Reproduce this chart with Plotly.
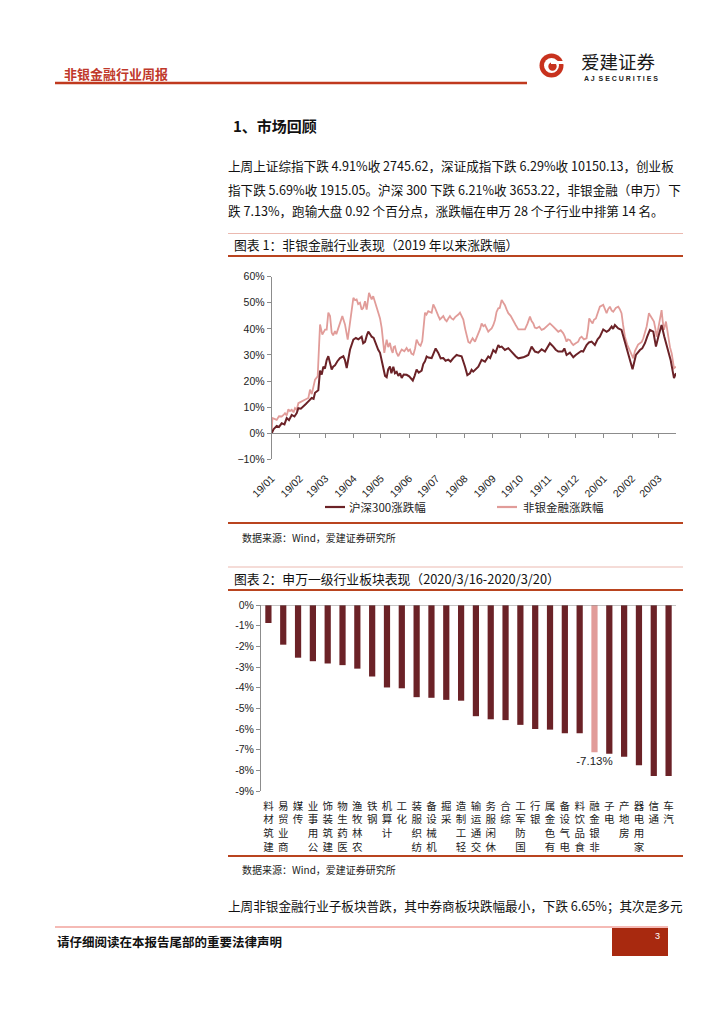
import pandas as pd
import plotly.graph_objects as go

# The page body adds an 8px margin, so the figure is 8px smaller and page coordinates
# are shifted by that offset.
OFF = 8
W, H = 724 - OFF, 1024 - OFF


def px(x):
    return (x - OFF) / W


def py(y):
    return 1 - (y - OFF) / H


CJK = "Noto Sans CJK SC"
LAT = "Liberation Sans, Noto Sans CJK SC"

# ---------------- Chart 1 data: cumulative change since 2019 (%) ----------------
BASE_DATE = "2019-01-01"
END_DATE = "2020-03-20 03:00"

hs300_name = "沪深300涨跌幅"
fin_name = "非银金融涨跌幅"

hs300_day = [0, 2, 5.5, 8, 11, 14, 16.5, 19, 22, 25, 27.5, 29.3, 32, 34.8, 37.5, 40.3, 43.9, 46,
             47.6, 51.2, 53.1, 55, 56.7, 58.5, 60.4, 62.2, 64, 65.9, 67.5, 69.5, 72, 75, 78.7,
             80.5, 82.4, 84, 86, 89.7, 92.5, 95.2, 98.8, 100.5, 102.5, 104.5, 106.1, 108, 109.8,
             112, 115.3, 117, 119, 121, 122.6, 124.5, 126.3, 128, 129.9, 131.5, 133.6, 135.4,
             137.3, 139.1, 141, 142.8, 145, 148.2, 151, 153.7, 155, 157, 159.2, 161.5, 164.7,
             166.5, 168.4, 170.2, 172, 175.7, 178, 180.1, 183, 185.6, 188.5, 191, 194, 196.5,
             199.5, 203.1, 205, 208.6, 212.3, 214.9, 217.8, 219.6, 221.4, 225.1, 227, 230.6,
             234.3, 237.9, 240, 243.4, 246, 248.9, 250.5, 252.6, 256.2, 259.9, 262.5, 265.4,
             268, 270.9, 274, 276.4, 279, 281.9, 285.5, 289.2, 292.8, 296.5, 300.2, 302.5,
             305.6, 309.3, 312, 314.8, 319.5, 321.5, 323.9, 327.6, 331.3, 334, 336.7, 340,
             342.2, 345.9, 348.5, 351.4, 355, 358, 360.5, 364.2, 367.9, 370.5, 373.4, 375, 377,
             380.7, 384.3, 386, 388, 392.8, 396.4, 400.1, 402, 404.5, 407, 410, 412.5, 415.5,
             419.2, 422.1, 424.7, 428.3, 431.3, 434.6, 438.2, 441.9, 444.1]
hs300_pct = [0.0, 1.5, 2.8, 2.4, 3.8, 3.4, 5.8, 5.0, 7.0, 6.4, 7.7, 9.6, 9.4, 10.5, 11.2, 12.2,
             13.5, 13.2, 15.5, 16.5, 24.0, 22.5, 25.5, 24.8, 28.0, 29.5, 27.0, 24.4, 25.5, 26.0,
             27.5, 28.8, 29.5, 28.0, 25.0, 28.5, 32.0, 35.9, 36.5, 36.0, 37.0, 34.5, 35.0, 37.5,
             39.0, 38.0, 37.0, 36.5, 33.0, 32.0, 30.8, 28.0, 25.6, 22.0, 21.5, 24.5, 25.6, 23.0,
             25.5, 23.0, 23.5, 22.0, 23.0, 21.2, 22.5, 22.4, 21.8, 20.5, 20.2, 22.0, 24.4, 23.2,
             24.0, 26.5, 27.6, 29.4, 29.0, 28.8, 30.5, 32.5, 30.8, 28.7, 28.8, 27.8, 28.2, 27.5,
             28.8, 30.0, 29.8, 29.5, 25.6, 22.3, 23.0, 24.3, 23.6, 24.9, 25.5, 28.1, 27.4, 29.4,
             28.8, 31.9, 31.0, 33.8, 33.0, 33.2, 31.9, 32.6, 31.5, 30.6, 29.5, 28.7, 28.8, 29.1,
             29.5, 30.0, 33.2, 31.3, 30.9, 32.2, 31.3, 32.8, 34.5, 33.2, 32.0, 31.3, 31.3, 32.5,
             30.0, 30.9, 29.1, 30.0, 30.6, 31.5, 31.3, 33.8, 34.8, 35.1, 33.8, 36.0, 37.0, 39.8,
             38.9, 39.5, 40.9, 40.0, 41.5, 40.2, 39.6, 37.5, 34.5, 29.4, 24.5, 30.0, 31.0, 31.9,
             32.5, 34.5, 37.0, 39.6, 38.9, 33.2, 37.0, 41.5, 37.0, 33.2, 28.1, 21.1, 23.0]

fin_day = [0, 0.7, 3, 5.5, 8, 11, 13, 14.6, 16.5, 18.3, 20, 22, 24, 25.6, 27.5, 29.3, 32, 34.8,
           37.5, 40.3, 42.1, 44, 45.8, 47.6, 50.5, 53.1, 55.6, 57, 58.6, 60.4, 62.2, 64.1, 65.9,
           67.5, 69.5, 71, 73.2, 75.5, 77.6, 80.5, 82, 83.5, 86, 88, 89.7, 91.5, 93.3, 95, 97,
           98.8, 100.5, 102.5, 104.3, 106.9, 108.5, 109.8, 111.5, 113.5, 115.5, 117.1, 119,
           120.8, 122.3, 123.7, 125, 126.3, 128, 129.9, 131.5, 132.9, 134, 135.4, 137, 139.1,
           141, 142.8, 145.7, 148.2, 150, 151.9, 153.5, 155.6, 157.5, 159.2, 161.8, 163.5,
           165.4, 167, 168.4, 170, 172, 175.7, 177.5, 179.5, 181.2, 183, 184.8, 188.5, 190.5,
           192.2, 194, 195.8, 197.5, 199.5, 201.5, 203.1, 205, 206.8, 208.5, 210.5, 212.5,
           214.1, 216, 217.8, 220.7, 223.3, 225, 227, 229, 230.6, 232.5, 234.3, 237.9, 239.5,
           241.6, 243.5, 245.3, 247, 248.9, 250.5, 252.6, 254.5, 256.2, 258, 259.9, 262.5,
           265.4, 268, 270.9, 274.5, 278.2, 281, 283.7, 285.5, 287.4, 289, 291, 294, 296.5,
           299, 302, 305.6, 309.3, 312, 314.8, 317.5, 320.3, 322, 323.9, 325.5, 327.6, 329.5,
           331.3, 334, 336.7, 338.5, 340.4, 343, 345.9, 347.5, 348.8, 350.5, 352.5, 354, 356.1,
           358.5, 360.5, 364.2, 366, 367.9, 369.5, 371.5, 373.5, 375.2, 378, 380.7, 382.5,
           384.3, 386, 388, 390.5, 392.8, 395, 397.2, 399, 400.8, 402.5, 404.5, 406.5, 408.2,
           410, 411.9, 413.2, 414.4, 416, 417.4, 419.9, 421.5, 422.8, 424.3, 425.8, 427, 428.3,
           429.5, 430.9, 433.1, 435.7, 437.5, 439.4, 441.9, 444.1]
fin_pct = [0.0, 5.8, 5.5, 5.1, 6.5, 6.4, 7.0, 7.7, 6.8, 9.2, 8.5, 9.0, 8.0, 9.6, 9.0, 11.5, 12.0,
           12.4, 13.0, 13.5, 16.7, 15.0, 17.9, 20.5, 21.8, 41.7, 37.8, 39.0, 39.7, 39.7, 46.2,
           44.9, 38.5, 37.5, 39.1, 38.0, 40.4, 42.0, 44.9, 41.7, 38.0, 35.9, 42.3, 47.5, 51.9,
           51.0, 51.3, 49.5, 50.0, 47.4, 48.0, 50.6, 47.4, 53.8, 52.0, 51.3, 52.5, 50.6, 48.0,
           46.2, 44.0, 40.4, 35.0, 30.8, 33.5, 35.9, 33.0, 34.6, 32.0, 30.8, 33.0, 33.3, 31.0,
           29.5, 31.0, 32.1, 31.4, 32.7, 31.5, 32.1, 30.5, 30.1, 32.5, 35.9, 34.0, 33.5, 35.3,
           42.0, 46.2, 45.5, 46.8, 46.2, 49.4, 48.0, 46.8, 45.0, 43.6, 44.9, 43.5, 42.9, 44.0,
           44.9, 44.0, 43.6, 44.5, 44.9, 45.5, 46.2, 45.0, 43.6, 40.0, 37.2, 35.0, 34.6, 36.4,
           35.1, 36.5, 38.3, 40.0, 42.1, 41.0, 41.5, 38.9, 39.5, 40.2, 41.5, 43.4, 46.5, 47.9,
           48.0, 51.1, 50.0, 49.1, 47.5, 46.0, 45.0, 43.4, 41.5, 39.8, 39.8, 39.8, 42.0, 44.7,
           43.0, 42.1, 40.5, 40.2, 40.8, 39.6, 40.0, 40.9, 42.1, 40.9, 40.0, 38.9, 39.5, 38.3,
           37.0, 35.1, 36.0, 35.7, 34.5, 33.8, 34.5, 35.1, 36.5, 37.0, 36.0, 36.4, 40.0, 44.0,
           43.0, 42.1, 43.5, 44.0, 46.5, 48.5, 49.2, 47.5, 46.0, 47.5, 48.5, 47.0, 46.6, 48.0,
           48.5, 47.5, 46.0, 41.5, 37.0, 34.0, 31.9, 30.0, 28.7, 31.5, 33.2, 34.0, 34.5, 35.0,
           36.4, 38.5, 40.9, 43.5, 46.0, 45.0, 44.0, 42.8, 40.0, 37.0, 39.5, 42.1, 45.0, 47.2,
           43.0, 39.6, 42.8, 35.7, 33.0, 30.6, 24.9, 25.5]

# ---------------- Chart 2 data: SW level-1 industries, 2020/3/16-3/20 (%) ----------------
industries = ["建筑材料", "商业贸易", "传媒", "公用事业", "建筑装饰", "医药生物", "农林牧渔",
              "钢铁", "计算机", "化工", "纺织服装", "机械设备", "采掘", "轻工制造", "交通运输",
              "休闲服务", "综合", "国防军工", "银行", "有色金属", "电气设备", "食品饮料",
              "非银金融", "电子", "房地产", "家用电器", "通信", "汽车"]
industry_pct = [-0.87, -1.92, -2.55, -2.72, -2.83, -2.91, -3.08, -3.46, -3.99, -4.03, -4.46,
                -4.49, -4.59, -4.63, -5.38, -5.53, -5.57, -5.80, -6.00, -6.03, -6.21, -6.21,
                -7.13, -7.20, -7.34, -7.75, -8.27, -8.27]
highlight = "非银金融"
bar_tick_vals = [0, -1, -2, -3, -4, -5, -6, -7, -8, -9]
bar_tick_text = ["0%", "-1%", "-2%", "-3%", "-4%", "-5%", "-6%", "-7%", "-8%", "-9%"]

DARK = "#6B2227"
PINK = "#E19C99"
AXIS = "#8C8C8C"


def to_dates(days):
    return pd.Timestamp(BASE_DATE) + pd.to_timedelta(days, unit="D")


def stack(label):
    # upright characters stacked, read bottom-to-top as in the source
    return "<br>".join(reversed(label))


fig = go.Figure()

fig.add_trace(go.Scatter(x=to_dates(fin_day), y=fin_pct, mode="lines", name=fin_name,
                         line=dict(color=PINK, width=1.8), xaxis="x", yaxis="y"))
fig.add_trace(go.Scatter(x=to_dates(hs300_day), y=hs300_pct, mode="lines", name=hs300_name,
                         line=dict(color=DARK, width=2), xaxis="x", yaxis="y"))
fig.add_trace(go.Scatter(x=[], y=[], xaxis="x3", yaxis="y", hoverinfo="skip"))

bar_colors = [PINK if c == highlight else DARK for c in industries]
bar_text = ["%.2f%%" % v if c == highlight else "" for c, v in zip(industries, industry_pct)]
fig.add_trace(go.Bar(x=industries, y=industry_pct, marker=dict(color=bar_colors, line=dict(width=0)),
                     width=0.42, text=bar_text, textposition="outside", constraintext="none",
                     textfont=dict(family=LAT, size=11.5, color="#222"), cliponaxis=False,
                     xaxis="x2", yaxis="y2"))

c1_x0, c1_x1 = 271.7, 676
c1_ytop, c1_ybot = 276.7, 459.3
c1_zero = 433.3
c2_x0, c2_x1 = 261, 676
c2_ytop, c2_ybot = 605, 791

fig.update_layout(
    width=W, height=H, margin=dict(l=0, r=0, t=0, b=0, autoexpand=False),
    paper_bgcolor="white", plot_bgcolor="white",
    showlegend=False,
    xaxis=dict(domain=[px(c1_x0), px(c1_x1)], anchor="y", type="date", automargin=False,
               range=[BASE_DATE, END_DATE], tick0="2019-01-01", dtick="M1", tickformat="%y/%m",
               tickangle=-45, showline=False, ticks="outside", ticklen=8,
               tickcolor="rgba(0,0,0,0)", showgrid=False, zeroline=False,
               tickfont=dict(family=LAT, size=10.5, color="#222")),
    xaxis3=dict(domain=[px(c1_x0), px(c1_x1)], overlaying="x", anchor="free", automargin=False,
                position=py(c1_zero), side="bottom", type="date",
                range=[BASE_DATE, END_DATE], tick0="2019-01-01", dtick="M1",
                showticklabels=False, ticks="outside", ticklen=4, tickcolor=AXIS,
                showline=True, linecolor=AXIS, linewidth=1, showgrid=False, zeroline=False),
    yaxis=dict(domain=[py(c1_ybot), py(c1_ytop)], anchor="x", range=[-10, 60], dtick=10,
               automargin=False,
               ticksuffix="%", showline=True, linecolor=AXIS, linewidth=1, ticks="outside",
               ticklen=4, tickcolor=AXIS, showgrid=False, zeroline=False,
               tickfont=dict(family=LAT, size=10.5, color="#222")),
    xaxis2=dict(domain=[px(c2_x0), px(c2_x1)], anchor="y2", type="category", automargin=False,
                tickvals=industries, ticktext=[stack(c) for c in industries], tickangle=0,
                showline=False, ticks="outside", ticklen=5, tickcolor="rgba(0,0,0,0)",
                showgrid=False, zeroline=False,
                tickfont=dict(family=CJK, size=10.5, color="#222")),
    yaxis2=dict(domain=[py(c2_ybot), py(c2_ytop)], anchor="x2", range=[-9, 0], automargin=False,
                tickvals=bar_tick_vals, ticktext=bar_tick_text, showline=True, linecolor=AXIS,
                linewidth=1, ticks="outside", ticklen=4, tickcolor=AXIS, showgrid=False,
                zeroline=False, tickfont=dict(family=LAT, size=10.5, color="#222")),
)

shapes = []
# chart 2 top axis (0%)
shapes.append(dict(type="line", xref="x2 domain", yref="y2", x0=0, x1=1, y0=0, y1=0,
                   line=dict(color=AXIS, width=1)))


def hline(y, x0, x1, color, width):
    shapes.append(dict(type="line", xref="paper", yref="paper", x0=px(x0), x1=px(x1),
                       y0=py(y), y1=py(y), line=dict(color=color, width=width)))


# header rule
hline(83, 55, 527, "#C0391E", 2.5)
# chart frames
hline(233.5, 228, 683, "#EBB9B0", 1)
hline(256, 228, 683, "#B9441F", 2)
hline(523, 228, 683, "#B9441F", 2)
hline(567, 228, 683, "#EBB9B0", 1)
hline(590, 228, 683, "#B9441F", 2)
hline(856, 228, 683, "#B9441F", 2)
# legend swatches (chart 1)
hline(507, 325, 345, DARK, 2.2)
hline(507, 497, 517, PINK, 2.2)
# footer rule
hline(927, 55, 668, "#F2A39C", 1.5)
shapes.append(dict(type="rect", xref="paper", yref="paper", x0=px(612), x1=px(668),
                   y0=py(956), y1=py(928), fillcolor="#A8290F", line=dict(width=0)))


# logo
def circle(cx, cy, r, color):
    shapes.append(dict(type="circle", xref="paper", yref="paper", x0=px(cx - r), x1=px(cx + r),
                       y0=py(cy + r), y1=py(cy - r), fillcolor=color, line=dict(width=0)))


circle(551.5, 65.5, 12, "#C8321E")
circle(551.5, 65.5, 7.5, "white")
circle(552.5, 66.5, 4.2, "#C8321E")
shapes.append(dict(type="rect", xref="paper", yref="paper", x0=px(551), x1=px(564),
                   y0=py(64), y1=py(61), fillcolor="white", line=dict(width=0)))
fig.update_layout(shapes=shapes)

ann = []


def text(x, y, s, size, color="#111", family=CJK, xanchor="left"):
    ann.append(dict(xref="paper", yref="paper", x=px(x), y=py(y), text=s, showarrow=False,
                    xanchor=xanchor, yanchor="middle", font=dict(family=family, size=size,
                                                                 color=color)))


text(62, 73, "<b>非银金融行业周报</b>", 13, "#C0392B")
text(579, 61, "爱建证券", 18.5, "#1a1a1a")
text(582, 78.5, "<b>A J  S E C U R I T I E S</b>", 7, "#222", LAT)
text(231, 125, "<b>1、市场回顾</b>", 15, "#111")
text(226, 166, "上周上证综指下跌 4.91%收 2745.62，深证成指下跌 6.29%收 10150.13，创业板", 12.6)
text(226, 189, "指下跌 5.69%收 1915.05。沪深 300 下跌 6.21%收 3653.22，非银金融（申万）下", 12.6)
text(226, 211, "跌 7.13%，跑输大盘 0.92 个百分点，涨跌幅在申万 28 个子行业中排第 14 名。", 12.6)
text(232, 244.5, "图表 1：非银金融行业表现（2019 年以来涨跌幅）", 12.8)
text(347, 507, hs300_name, 11.5, "#222")
text(521, 507, fin_name, 11.5, "#222")
text(240, 537, "数据来源：Wind，爱建证券研究所", 10, "#222")
text(232, 578.5, "图表 2：申万一级行业板块表现（2020/3/16-2020/3/20）", 12.8)
text(240, 869, "数据来源：Wind，爱建证券研究所", 10, "#222")
text(226, 905, "上周非银金融行业子板块普跌，其中券商板块跌幅最小，下跌 6.65%；其次是多元", 12.6)
text(55, 941, "<b>请仔细阅读在本报告尾部的重要法律声明</b>", 12.5, "#111")
text(657, 936, "3", 9, "white", LAT, "center")
fig.update_layout(annotations=ann)

fig.write_html("out.html")
